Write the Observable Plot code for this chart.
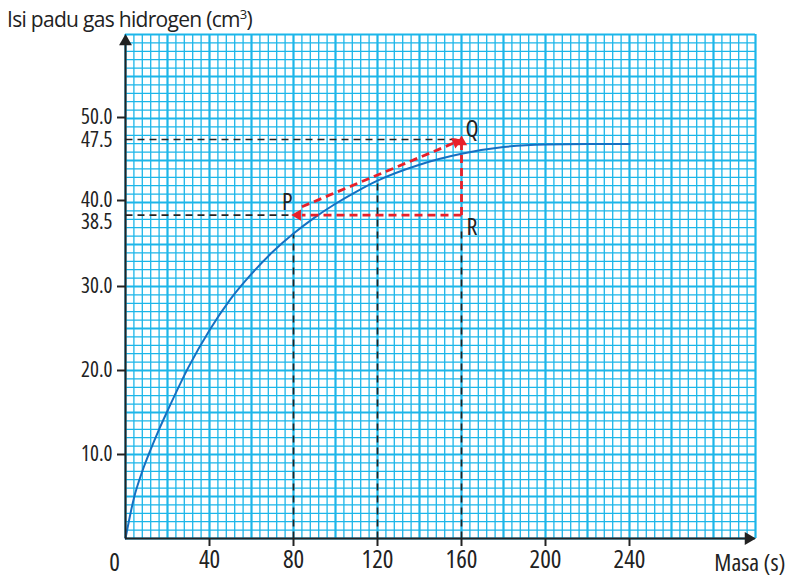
<!DOCTYPE html>
<html>
<head>
<meta charset="utf-8">
<script src="https://cdn.jsdelivr.net/npm/d3@7"></script>
<script src="https://cdn.jsdelivr.net/npm/@observablehq/plot@0.6"></script>
<style>
  html, body { margin: 0; padding: 0; background: #fff; }
  #wrap { position: relative; width: 789px; height: 577px; }
  #title { position: absolute; left: 7px; top: 5px; font-family: "Open Sans", sans-serif; font-size: 21px; font-stretch: 100%; color: #222; white-space: nowrap; letter-spacing: -0.7px; }
  #title sup { font-size: 13px; vertical-align: 8px; line-height: 0; }
  svg text { font-stretch: 75%; }
</style>
</head>
<body>
<div id="wrap">
  <div id="chart"></div>
  <div id="title">Isi padu gas hidrogen (cm<sup>3</sup>)</div>
</div>
<script>
// ---- data ----
const timeS  = [0, 4, 8, 12, 16, 20, 30, 40, 50, 60, 70, 80, 90, 100, 110, 120, 140, 160, 180, 200, 220, 240];
const volume = [0, 4.8, 8.0, 10.6, 13.0, 15.2, 20.4, 24.8, 28.5, 31.5, 34.1, 36.3, 38.2, 39.85, 41.3, 42.6, 44.5, 45.8, 46.6, 46.9, 46.95, 46.95];

const xTicks = [40, 80, 120, 160, 200, 240];
const yTicks = [10, 20, 30, 40, 50];
const yTickLabels = ["10.0", "20.0", "30.0", "40.0", "50.0"];
const markedVolumes = [47.5, 38.5];
const markedTimes = [80, 120, 160];
const curveAtMarkedTimes = [36.3, 42.6, 37.0];

const pointNames = ["P", "Q", "R"];
const pointTimes = [77, 165, 165];
const pointVolumes = [40.0, 48.7, 37.0];

// tangent triangle P-Q-R
const Pt = {t: 82, v: 38.5};
const Qt = {t: 160, v: 47.5};
const Rt = {t: 160, v: 38.5};

const xMax = 300, yMax = 60;

const curve = timeS.map((t, i) => ({t, v: volume[i]}));
const minorX = d3.range(0, xMax + 1, 4).filter(d => d % 20 !== 0);
const majorX = d3.range(0, xMax + 1, 20);
const minorY = d3.range(0, yMax + 1, 1).filter(d => d % 5 !== 0);
const majorY = d3.range(0, yMax + 1, 5);

const gridColor = "#1cb6e9";
const font = '"Open Sans", sans-serif';
const fsY = 21, fsX = 25, fsP = 24;

const hGuides = markedVolumes.map((v, i) => ({v, t2: i === 0 ? Qt.t : 80}));
const vGuides = markedTimes.map((t, i) => ({t, v2: curveAtMarkedTimes[i]}));

const redSegs = [
  {t1: Rt.t, v1: Rt.v, t2: Pt.t + 2, v2: Pt.v},
  {t1: Rt.t, v1: Rt.v, t2: Qt.t, v2: Qt.v - 0.6},
  {t1: 84, v1: 39.5, t2: 157.5, v2: 47.2}
];
const redHeads = [
  {t: Pt.t, v: Pt.v, rot: -90},
  {t: Qt.t, v: Qt.v - 0.3, rot: 0},
  {t: 157.5, v: 47.2, rot: 68}
];

const chart = Plot.plot({
  width: 789,
  height: 577,
  marginLeft: 125,
  marginRight: 34,
  marginTop: 34,
  marginBottom: 39,
  x: {domain: [0, xMax], axis: null},
  y: {domain: [0, yMax], axis: null},
  style: `font-family: ${font}; font-size: ${fsY}px; color: #222; background: #fff;`,
  marks: [
    // graph paper
    Plot.ruleX(minorX, {x: d => d, y1: 0, y2: yMax, stroke: gridColor, strokeWidth: 1.3}),
    Plot.ruleY(minorY, {y: d => d, x1: 0, x2: xMax, stroke: gridColor, strokeWidth: 1.3}),
    Plot.ruleX(majorX, {x: d => d, y1: 0, y2: yMax, stroke: gridColor, strokeWidth: 2.2}),
    Plot.ruleY(majorY, {y: d => d, x1: 0, x2: xMax, stroke: gridColor, strokeWidth: 2.2}),
    // black guides
    Plot.link(hGuides, {x1: 0, x2: "t2", y1: "v", y2: "v", stroke: "#222", strokeWidth: 1.7, strokeDasharray: "7,5"}),
    Plot.link(vGuides, {x1: "t", x2: "t", y1: 0, y2: "v2", stroke: "#222", strokeWidth: 1.7, strokeDasharray: "7,5"}),
    // curve
    Plot.line(curve, {x: "t", y: "v", curve: "monotone-x", stroke: "#1570c2", strokeWidth: 2}),
    // red triangle
    Plot.link(redSegs, {x1: "t1", y1: "v1", x2: "t2", y2: "v2", stroke: "#e8202a", strokeWidth: 2.8, strokeDasharray: "8,5"}),
    Plot.dot(redHeads, {x: "t", y: "v", rotate: "rot", symbol: "triangle", r: 4.2, fill: "#e8202a", stroke: "none"}),
    // axes
    Plot.ruleX([0], {y1: 0, y2: yMax - 1, stroke: "#222", strokeWidth: 2}),
    Plot.ruleY([0], {x1: 0, x2: xMax - 3, stroke: "#222", strokeWidth: 2}),
    Plot.dot([0], {x: 0, y: yMax, dy: 7, symbol: "triangle", r: 4.8, fill: "#222", stroke: "none"}),
    Plot.dot([0], {x: xMax, y: 0, dx: -7, rotate: 90, symbol: "triangle", r: 4.8, fill: "#222", stroke: "none"}),
    Plot.axisY({ticks: yTicks.slice(0, 3), tickSize: 8, tickPadding: 5, tickFormat: d => yTickLabels[yTicks.indexOf(d)], label: null, stroke: "#222", strokeWidth: 2, fontSize: fsY}),
    Plot.axisY({ticks: [yTicks[3]], tickSize: 8, tickPadding: 5, dy: -2, tickFormat: d => yTickLabels[yTicks.indexOf(d)], label: null, stroke: "#222", strokeWidth: 2, fontSize: fsY}),
    Plot.axisY({ticks: [yTicks[4]], tickSize: 8, tickPadding: 5, dy: -1, tickFormat: d => yTickLabels[yTicks.indexOf(d)], label: null, stroke: "#222", strokeWidth: 2, fontSize: fsY}),
    Plot.axisY({ticks: [markedVolumes[0]], tickSize: 0, tickPadding: 13, dy: 1, tickFormat: d => d.toFixed(1), label: null, fontSize: fsY}),
    Plot.axisY({ticks: [markedVolumes[1]], tickSize: 0, tickPadding: 13, dy: 7, tickFormat: d => d.toFixed(1), label: null, fontSize: fsY}),
    Plot.axisX({ticks: xTicks, tickSize: 8, tickPadding: 4, label: null, stroke: "#222", strokeWidth: 2, fontSize: fsX}),
    Plot.text([0], {x: 0, y: 0, text: d => String(d), dx: -11, dy: 24, fontSize: fsX}),
    Plot.text(["Masa (s)"], {x: xMax, y: 0, text: d => d, dx: 30, dy: 25, textAnchor: "end", fontSize: fsP}),
    // point labels
    Plot.text(pointNames, {x: (d, i) => pointTimes[i], y: (d, i) => pointVolumes[i], text: d => d, fontSize: fsP})
  ]
});
document.getElementById("chart").appendChild(chart);
</script>
</body>
</html>
